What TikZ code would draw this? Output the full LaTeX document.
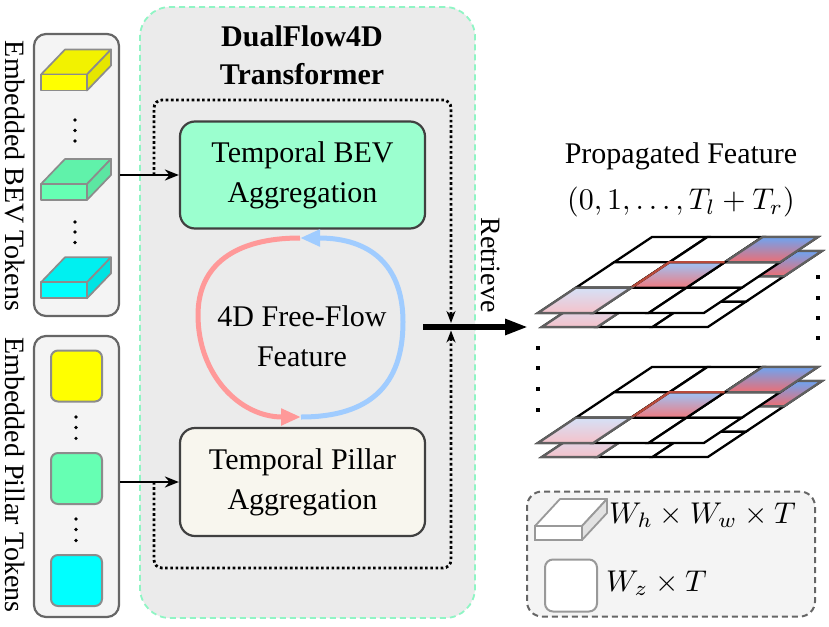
\documentclass[tikz,border=0pt]{standalone}
\usepackage{graphicx}
\usepackage[no-math]{fontspec}
\setmainfont{Liberation Serif}
\usetikzlibrary{arrows.meta}

\definecolor{mainfill}{HTML}{EBEBEB}
\definecolor{mainedge}{HTML}{8FF5C4}
\definecolor{bevfill}{HTML}{9BFFCF}
\definecolor{pilfill}{HTML}{F8F6EE}
\definecolor{boxedge}{HTML}{404040}
\definecolor{tokedge}{HTML}{666666}
\definecolor{tokfill}{HTML}{F4F4F4}
\definecolor{slabedge}{HTML}{8C8C8C}
\definecolor{yfront}{HTML}{FFFF00}
\definecolor{ytop}{HTML}{F2F200}
\definecolor{yside}{HTML}{E6E600}
\definecolor{gfront}{HTML}{66FFB3}
\definecolor{gtop}{HTML}{60F2AA}
\definecolor{gside}{HTML}{5CE6A2}
\definecolor{cfront}{HTML}{00FFFF}
\definecolor{ctop}{HTML}{00F0F0}
\definecolor{cside}{HTML}{00E3E3}
\definecolor{loopred}{HTML}{FF9999}
\definecolor{loopblue}{HTML}{A0CCFF}
\definecolor{sblue}{HTML}{6FA3F0}
\definecolor{sred}{HTML}{EE6E72}
\definecolor{mblue}{HTML}{9EC3F5}
\definecolor{mred}{HTML}{F07A80}
\definecolor{lblue}{HTML}{D5E1F7}
\definecolor{lred}{HTML}{F5C2CA}
\definecolor{celledge}{HTML}{606060}
\definecolor{midedge}{HTML}{B84A3A}
\definecolor{legedge}{HTML}{666666}
\definecolor{legfill}{HTML}{F4F4F4}
\definecolor{iconedge}{HTML}{999999}
\definecolor{iconside}{HTML}{E2E2E2}

\newcommand{\bigmath}[1]{\scalebox{3}{\fontsize{10}{12}\selectfont$#1$}}
\newcommand{\gpt}[4]{({#1+(#4)*55.3-(#3)*38},{#2+(#3)*25.33})}
\newcommand{\gcell}[5]{%
  \path[#5] \gpt{#1}{#2}{#3}{#4} -- \gpt{#1}{#2}{#3}{#4+1} -- \gpt{#1}{#2}{#3+1}{#4+1} -- \gpt{#1}{#2}{#3+1}{#4} -- cycle;}
\newcommand{\glayer}[2]{%
  \foreach \i in {0,1,2}{\foreach \j in {0,1,2}{\gcell{#1}{#2}{\i}{\j}{whitecell}}}
  \gcell{#1}{#2}{0}{2}{strongcell}
  \gcell{#1}{#2}{1}{1}{midcell}
  \draw[gridline, draw=midedge] \gpt{#1}{#2}{2}{1} -- \gpt{#1}{#2}{1}{1} -- \gpt{#1}{#2}{1}{2};
  \gcell{#1}{#2}{2}{0}{lightcell}}
\newcommand{\tokslab}[5]{%
  \filldraw[slabline, fill=#4] (#1,#2) -- ++(24,-25) -- ++(46,0) -- ++(-24,25) -- cycle;
  \filldraw[slabline, fill=#5] (#1+46,#2) -- ++(24,-25) -- ++(0,16) -- ++(-24,25) -- cycle;
  \filldraw[slabline, fill=#3] (#1,#2) rectangle ++(46,16);}

\tikzset{
  maintxt/.style={font=\fontsize{30}{40}\selectfont, align=center, inner sep=0},
  sidetxt/.style={font=\fontsize{28}{34}\selectfont, inner sep=0, rotate=-90},
  procbox/.style={draw=boxedge, line width=2.2pt, rounded corners=15pt, minimum width=245pt, minimum height=107pt, maintxt},
  tokbox/.style={draw=tokedge, fill=tokfill, line width=2.2pt, rounded corners=12pt, minimum width=85pt, minimum height=282pt},
  pilsq/.style={draw=slabedge, line width=2pt, rounded corners=7pt, minimum width=51pt, minimum height=51pt, inner sep=0},
  slabline/.style={draw=slabedge, line width=1.7pt, line join=round},
  gridline/.style={line width=2.3pt, line join=miter},
  whitecell/.style={gridline, fill=white, draw=black},
  strongcell/.style={gridline, top color=sblue, bottom color=sred, draw=celledge},
  midcell/.style={gridline, top color=mblue, bottom color=mred, draw=black},
  lightcell/.style={gridline, top color=lblue, bottom color=lred, draw=celledge},
  dotline/.style={line width=2.8pt, dash pattern=on 2.6pt off 2.6pt, rounded corners=8pt},
  smalltip/.style={-{Stealth[length=12pt,width=9pt]}},
  inarrow/.style={line width=2.8pt, -{Stealth[length=14pt,width=11pt]}},
  loopline/.style={line width=5pt},
}

\begin{document}
\begin{tikzpicture}[x=1pt,y=-1pt]
\useasboundingbox (0,0) rectangle (829,626);

% main transformer box
\node[draw=mainedge, fill=mainfill, line width=1.8pt, dash pattern=on 6pt off 4pt,
      rounded corners=30pt, minimum width=335pt, minimum height=611pt] (main) at (307.5,312.5) {};
\node[maintxt, font=\fontsize{30}{38}\selectfont\bfseries] (title) at (302,55) {DualFlow4D\\Transformer};

% token boxes
\node[tokbox] (bevbox) at (76.5,175) {};
\node[tokbox, minimum height=281pt] (pilbox) at (76.5,476.5) {};
\node[sidetxt] (bevlab) at (15,176) {Embedded BEV Tokens};
\node[sidetxt] (pillab) at (15,475) {Embedded Pillar Tokens};

% BEV slabs
\tokslab{41}{74.5}{yfront}{ytop}{yside}
\tokslab{41}{184}{gfront}{gtop}{gside}
\tokslab{41}{282.3}{cfront}{ctop}{cside}
\foreach \yy in {120,130.5,141,222,232,242.5} \fill (75,\yy) circle (1.8pt);

% pillar squares
\node[pilsq, fill=yfront] (p1) at (76.5,376) {};
\node[pilsq, fill=gfront] (p2) at (76.5,478.5) {};
\node[pilsq, fill=cfront] (p3) at (76.5,580.5) {};
\foreach \yy in {417,427.5,438.3,519,529.5,540.5} \fill (76,\yy) circle (1.8pt);

% process boxes
\node[procbox, fill=bevfill] (bev) at (302.5,175) {Temporal BEV\\Aggregation};
\node[procbox, fill=pilfill, minimum height=108pt] (pil) at (302.5,482) {Temporal Pillar\\Aggregation};

% input arrows
\draw[inarrow] (bevbox.east |- bev) -- (bev.west);
\draw[inarrow] (pilbox.east |- pil) -- (pil.west);

% dotted paths
\coordinate (d1s) at (154,175);
\coordinate (d1a) at (154,100);
\coordinate (d1b) at (451,100);
\coordinate (d1e) at (451,323);
\coordinate (d2s) at (154,482);
\coordinate (d2a) at (154,568);
\coordinate (d2b) at (451,568);
\coordinate (d2e) at (451,330.5);
\draw[dotline, smalltip] (d1s) -- (d1a) -- (d1b) -- (d1e);
\draw[dotline, smalltip] (d2s) -- (d2a) -- (d2b) -- (d2e);

% free-flow loop
\coordinate (lt) at (300,238);
\coordinate (lb) at (301,417);
\draw[loopline, draw=loopred, -{Triangle[length=20pt,width=16pt]}]
  (lt) .. controls (235,238) and (198,265) .. (198,315) .. controls (198,375) and (240,417) .. (lb);
\draw[loopline, draw=loopblue, -{Triangle[length=20pt,width=16pt]}]
  (lb) .. controls (370,417) and (403,385) .. (403,322) .. controls (403,265) and (370,238) .. (lt);
\node[maintxt] (fflab) at (302,336) {4D Free-Flow\\Feature};

% retrieve arrow
\coordinate (rs) at (423,327);
\coordinate (re) at (528,327);
\draw[line width=5.5pt, -{Triangle[length=23pt,width=15pt]}] (rs) -- (re);
\node[sidetxt] (retr) at (491,265) {Retrieve};

% propagated feature
\node[maintxt] (ptitle) at (681,156) {Propagated Feature};
\node[maintxt] (pmath) at (681,202) {\bigmath{(0,1,\ldots,T_l+T_r)}};

% grids
\glayer{656}{251}
\glayer{652}{237}
\glayer{656}{381}
\glayer{652}{367}
\foreach \yy in {277,298,318,338} \fill (818,\yy) +(-2.4,-2.4) rectangle +(2.4,2.4);
\foreach \yy in {348,368,389,410} \fill (538,\yy) +(-2.4,-2.4) rectangle +(2.4,2.4);

% legend
\node[draw=legedge, fill=legfill, line width=2pt, dash pattern=on 6pt off 4pt, rounded corners=15pt,
      minimum width=288pt, minimum height=125pt] (legend) at (671,554) {};
\filldraw[draw=iconedge, line width=1.8pt, line join=round, fill=white] (535,526) -- ++(25,-27) -- ++(47,0) -- ++(-25,27) -- cycle;
\filldraw[draw=iconedge, line width=1.8pt, line join=round, fill=iconside] (582,526) -- ++(25,-27) -- ++(0,14) -- ++(-25,27) -- cycle;
\filldraw[draw=iconedge, line width=1.8pt, fill=white] (535,526) rectangle ++(47,14);
\node[draw=iconedge, fill=white, line width=2pt, rounded corners=8pt, minimum width=52pt, minimum height=52pt, inner sep=0] (legsq) at (571,585.5) {};
\node[maintxt, anchor=west] (leg1) at (609,515) {\bigmath{W_h\times W_w\times T}};
\node[maintxt, anchor=west] (leg2) at (606,583) {\bigmath{W_z\times T}};
\end{tikzpicture}
\end{document}
